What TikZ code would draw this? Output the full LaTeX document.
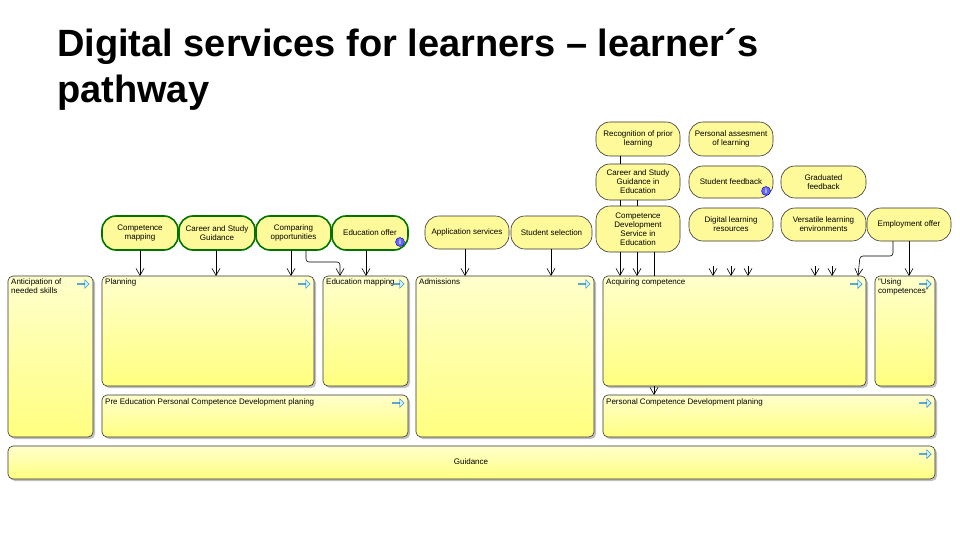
\documentclass[tikz,border=0pt]{standalone}
\usepackage{fontspec}
\setmainfont{Liberation Sans}
\usetikzlibrary{arrows.meta,shadows,shapes.arrows}
\begin{document}
\begin{tikzpicture}[x=1pt,y=-1pt,
 proc/.style={draw=black!80,rounded corners=5pt,top color=yellow!20!white,bottom color=yellow!50,drop shadow={shadow xshift=2pt,shadow yshift=-2pt,fill=black!50},line width=0.6pt},
 svc/.style={draw=black!80,rounded corners=14pt,fill=yellow!40,line width=0.6pt},
 gsvc/.style={draw=green!45!black,rounded corners=14pt,fill=yellow!40,line width=1.6pt},
 lbl/.style={font=\fontsize{8}{9}\selectfont,align=center,inner sep=0pt},
 plbl/.style={font=\fontsize{8}{9}\selectfont,align=left,anchor=north west,inner sep=0pt},
 arr/.style={-{Straight Barb[length=7pt,width=8pt]},line width=0.6pt},
 ic/.style={single arrow,draw=cyan!60!blue,fill=cyan!20,minimum height=12pt,minimum width=9pt,single arrow head extend=2pt,inner sep=0pt},
 info/.style={circle,draw=blue!70!black,fill=blue!60,text=white,font=\bfseries\fontsize{7}{7}\selectfont,inner sep=0.5pt,minimum size=9pt}]
\useasboundingbox (0,0) rectangle (960,540);
\node[anchor=base west,font=\bfseries\fontsize{38}{46}\selectfont,align=left,inner sep=0pt] (title) at (57,103) {Digital services for learners – learner´s\\pathway};
% process boxes
\newcommand{\pbox}[6]{\draw[proc] (#2,#3) rectangle (#4,#5) coordinate (#1);
 \node[plbl] (#1t) at (#2+3,#3+3) {#6};
 \node[ic] (#1i) at (#4-10,#3+8) {};}
\pbox{ant}{8}{276}{93}{437}{Anticipation of\\needed skills}
\pbox{plan}{102}{276}{314}{386}{Planning}
\pbox{emap}{323}{276}{408}{386}{Education mapping}
\pbox{pre}{102}{395}{408}{437}{Pre Education Personal Competence Development planing}
\pbox{adm}{416}{276}{594}{437}{Admissions}
\pbox{acq}{603}{276}{866}{386}{Acquiring competence}
\pbox{use}{875}{276}{935}{386}{"Using\\competences"}
\pbox{pcd}{603}{395}{935}{437}{Personal Competence Development planing}
\draw[proc] (8,446) rectangle (935,479);
\node[lbl] (guid) at (471,462) {Guidance};
\node[ic] (guidi) at (925,454) {};
% services
\newcommand{\sv}[7]{\draw[#2] (#3,#4) rectangle (#5,#6) coordinate (#1);
 \node[lbl] (#1t) at ({(#3+#5)/2},{(#4+#6)/2}) {#7};}
\sv{cm}{gsvc}{102}{216}{178}{250}{Competence\\mapping}
\sv{csg}{gsvc}{179}{216}{255}{250}{Career and Study\\Guidance}
\sv{cop}{gsvc}{256}{216}{331}{250}{Comparing\\opportunities}
\sv{eo}{gsvc}{332}{216}{408}{250}{Education offer}
\node[info] (eoi) at (400,242) {i};
\sv{app}{svc}{425}{216}{509}{249}{Application services}
\sv{ss}{svc}{511}{216}{592}{249}{Student selection}
\sv{rec}{svc}{596}{122}{680}{156}{Recognition of prior\\learning}
\sv{pa}{svc}{689}{122}{773}{156}{Personal assesment\\of learning}
\sv{csge}{svc}{596}{164}{680}{200}{Career and Study\\Guidance in\\Education}
\sv{sf}{svc}{689}{166}{773}{198}{Student feedback}
\node[info] (sfi) at (766,191) {i};
\sv{gf}{svc}{781}{166}{866}{198}{Graduated\\feedback}
\sv{cds}{svc}{596}{206}{680}{252}{Competence\\Development\\Service in\\Education}
\sv{dlr}{svc}{689}{208}{773}{241}{Digital learning\\resources}
\sv{vle}{svc}{781}{208}{866}{241}{Versatile learning\\environments}
\sv{emp}{svc}{867}{208}{951}{241}{Employment offer}
% connectors
\coordinate (a1) at (140,250); \coordinate (b1) at (140,276);
\draw[arr] (a1) -- (b1);
\coordinate (a2) at (216,250); \coordinate (b2) at (216,276);
\draw[arr] (a2) -- (b2);
\coordinate (a3) at (291,250); \coordinate (b3) at (291,276);
\draw[arr] (a3) -- (b3);
\coordinate (a4) at (306,250); \coordinate (b4) at (340,276);
\draw[arr,rounded corners=3pt] (a4) -- (306,262) -- (340,262) -- (b4);
\coordinate (a5) at (366,250); \coordinate (b5) at (366,276);
\draw[arr] (a5) -- (b5);
\coordinate (a6) at (465,249); \coordinate (b6) at (465,276);
\draw[arr] (a6) -- (b6);
\coordinate (a7) at (551,249); \coordinate (b7) at (551,276);
\draw[arr] (a7) -- (b7);
\draw (620,156) -- (620,164);
\draw (620,200) -- (620,206);
\draw (637,200) -- (637,206);
\coordinate (a8) at (620,252); \coordinate (b8) at (620,276);
\draw[arr] (a8) -- (b8);
\coordinate (a9) at (637,252); \coordinate (b9) at (637,276);
\draw[arr] (a9) -- (b9);
\coordinate (a10) at (654,252); \coordinate (b10) at (654,395);
\draw (a10) -- (654,276);
\draw[arr] (654,386) -- (b10);
\foreach \x in {713,731,748,815,832}{\draw[arr] (\x,266) -- (\x,276);}
\coordinate (a11) at (893,241); \coordinate (b11) at (858,276);
\draw[arr,rounded corners=3pt] (a11) -- (893,256) -- (860,256) -- (b11);
\coordinate (a12) at (909,241); \coordinate (b12) at (909,276);
\draw[arr] (a12) -- (b12);
\end{tikzpicture}
\end{document}
